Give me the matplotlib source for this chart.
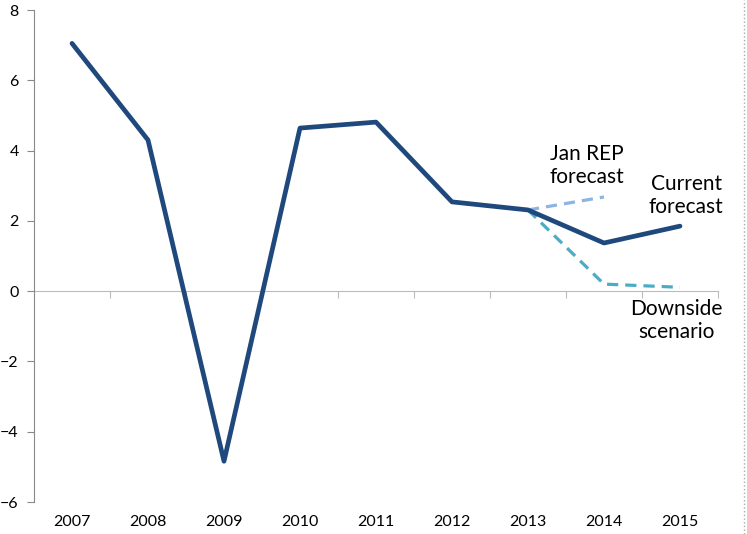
import matplotlib.pyplot as plt
import numpy as np

years = ["2007", "2008", "2009", "2010", "2011", "2012", "2013", "2014", "2015"]
current = [7.05, 4.30, -4.84, 4.64, 4.81, 2.54, 2.31, 1.37, 1.85]
jan_rep = [2.31, 2.68]          # 2013-2014
downside = [2.31, 0.20, 0.11]   # 2013-2015

plt.rcParams['font.family'] = ['Lato', 'DejaVu Sans']

fig = plt.figure(figsize=(7.47, 5.34), dpi=100)
ax = fig.add_axes([34/747, 1-502/534, (718-34)/747, 492/534])

x = np.arange(len(years))
ax.plot(x, current, color="#1F497D", lw=3.4, solid_capstyle="round", zorder=3)
ax.plot(x[6:8], jan_rep, color="#8DB4E2", lw=2.3, ls=(0, (3.5, 2.2)), zorder=2)
ax.plot(x[6:9], downside, color="#4BACC6", lw=2.3, ls=(0, (3.5, 2.2)), zorder=2)

ax.set_xlim(-0.5, len(years) - 0.5)
ax.set_ylim(-6, 8)
ax.set_yticks(range(-6, 9, 2))
ax.tick_params(axis='y', direction='out', length=5, color="#888888", labelsize=11.5, pad=6)

for s in ["top", "right", "bottom"]:
    ax.spines[s].set_visible(False)
ax.spines["left"].set_color("#888888")

# category labels along the bottom
ax.set_xticks(x)
ax.set_xticklabels(years, fontsize=11.5)
ax.tick_params(axis='x', length=0, pad=9)

# zero line with tick marks between categories
sec = ax.secondary_xaxis(6/14)
sec.spines["bottom"].set_color("#BBBBBB")
sec.set_xticks(np.arange(0.5, len(years), 1))
sec.tick_params(axis='x', direction='out', length=5, color="#BBBBBB", labelbottom=False)

ax.text(6.78, 2.95, "Jan REP\nforecast", fontsize=15, ha="center", va="bottom", linespacing=1.2)
ax.text(8.08, 2.1, "Current\nforecast", fontsize=15, ha="center", va="bottom", linespacing=1.2)
ax.text(7.95, -0.22, "Downside\nscenario", fontsize=15, ha="center", va="top", linespacing=1.2)

fig.add_artist(plt.Line2D([744/747, 744/747], [0, 1], color="#AAAAAA", lw=1, ls=":"))

fig.savefig("out.png", dpi=100)
